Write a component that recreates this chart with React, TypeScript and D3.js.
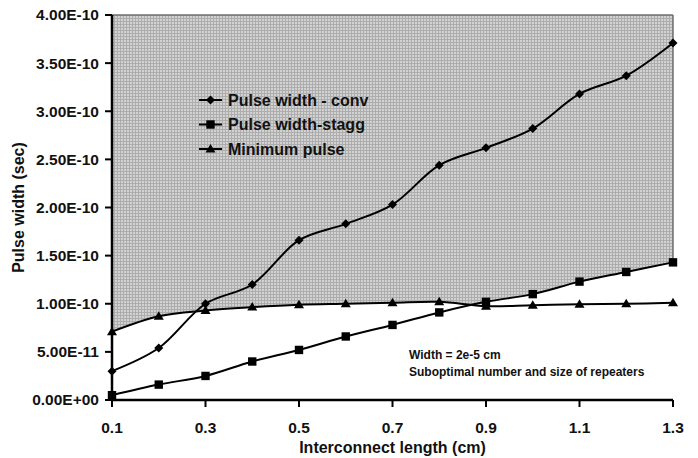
import React from "react";
import * as d3 from "d3";

const lengths = [0.1, 0.2, 0.3, 0.4, 0.5, 0.6, 0.7, 0.8, 0.9, 1.0, 1.1, 1.2, 1.3];
const pulseConv = [3.0e-11, 5.4e-11, 1.0e-10, 1.2e-10, 1.66e-10, 1.83e-10, 2.03e-10, 2.44e-10, 2.62e-10, 2.82e-10, 3.18e-10, 3.37e-10, 3.71e-10];
const pulseStagg = [5e-12, 1.6e-11, 2.5e-11, 4.0e-11, 5.2e-11, 6.6e-11, 7.8e-11, 9.1e-11, 1.02e-10, 1.1e-10, 1.23e-10, 1.33e-10, 1.43e-10];
const minPulse = [7.1e-11, 8.7e-11, 9.3e-11, 9.65e-11, 9.9e-11, 1.0e-10, 1.01e-10, 1.02e-10, 9.75e-11, 9.85e-11, 9.95e-11, 1.0e-10, 1.01e-10];
const yTicks = [0, 5e-11, 1e-10, 1.5e-10, 2e-10, 2.5e-10, 3e-10, 3.5e-10, 4e-10];
const yTickLabels = ["0.00E+00", "5.00E-11", "1.00E-10", "1.50E-10", "2.00E-10", "2.50E-10", "3.00E-10", "3.50E-10", "4.00E-10"];
const xTicks = [0.1, 0.3, 0.5, 0.7, 0.9, 1.1, 1.3];
const seriesNames = ["Pulse width - conv", "Pulse width-stagg", "Minimum pulse"];
const annotation = ["Width = 2e-5 cm", "Suboptimal number and size of repeaters"];

const W = 698, H = 458;
const L = 112, R = 673, T = 15, B = 400;
const FONT = "'Liberation Sans', Arial, sans-serif";

export default function App() {
  const x = d3.scaleLinear().domain([0.1, 1.3]).range([L, R]);
  const y = d3.scaleLinear().domain([0, 4e-10]).range([B, T]);
  const curve = d3.curveCatmullRom.alpha(0.5);

  const line = (vals: number[]) =>
    d3.line<number>().x((_, i) => x(lengths[i])).y((v) => y(v)).curve(curve)(vals) || "";
  const areaAbove = (vals: number[]) =>
    d3.area<number>().x((_, i) => x(lengths[i])).y0(y(4e-10)).y1((v) => y(v)).curve(curve)(vals) || "";

  const series = [pulseConv, pulseStagg, minPulse];

  const marker = (kind: number, cx: number, cy: number, key: string) => {
    if (kind === 0) {
      const s = 4.5;
      return <path key={key} d={`M${cx},${cy - s}L${cx + s},${cy}L${cx},${cy + s}L${cx - s},${cy}Z`} fill="#000" />;
    }
    if (kind === 1) {
      const s = 4.2;
      return <rect key={key} x={cx - s} y={cy - s} width={2 * s} height={2 * s} fill="#000" />;
    }
    const s = 5;
    return <path key={key} d={`M${cx},${cy - s}L${cx + s},${cy + s * 0.7}L${cx - s},${cy + s * 0.7}Z`} fill="#000" />;
  };

  const lastX = x(lengths[lengths.length - 1]);
  const lastStagg = y(pulseStagg[pulseStagg.length - 1]);

  return (
    <svg width={W} height={H} style={{ position: "absolute", left: 0, top: 0 }} fontFamily={FONT}>
      <defs>
        <pattern id="grid" width="3" height="3" patternUnits="userSpaceOnUse">
          <rect width="3" height="3" fill="#d2d2d2" />
          <rect width="3" height="1" fill="#adadad" />
          <rect width="1" height="3" fill="#adadad" />
        </pattern>
        <clipPath id="aboveStagg">
          <path d={areaAbove(pulseStagg)} />
        </clipPath>
      </defs>
      <rect width={W} height={H} fill="#fff" />
      <path d={areaAbove(minPulse)} fill="url(#grid)" clipPath="url(#aboveStagg)" />
      <line x1={L} x2={R} y1={T} y2={T} stroke="#707070" strokeWidth={1.5} />
      <line x1={lastX} x2={lastX} y1={T} y2={lastStagg} stroke="#707070" strokeWidth={1.5} />

      {series.map((vals, si) => (
        <g key={si}>
          <path d={line(vals)} fill="none" stroke="#000" strokeWidth={2} />
          {vals.map((v, i) => marker(si, x(lengths[i]), y(v), `${si}-${i}`))}
        </g>
      ))}

      {/* axes */}
      <line x1={L} x2={L} y1={T} y2={B} stroke="#000" strokeWidth={2.5} />
      <line x1={L} x2={R} y1={B} y2={B} stroke="#000" strokeWidth={2.5} />
      {yTicks.map((t, i) => (
        <g key={i}>
          <line x1={L - 7} x2={L} y1={y(t)} y2={y(t)} stroke="#000" strokeWidth={2} />
          <text x={L - 13} y={y(t)} dy="0.35em" textAnchor="end" fontSize={15.5} fontWeight="bold" fill="#111">
            {yTickLabels[i]}
          </text>
        </g>
      ))}
      {xTicks.map((t, i) => (
        <g key={i}>
          <line x1={x(t)} x2={x(t)} y1={B} y2={B + 7} stroke="#000" strokeWidth={2} />
          <text x={x(t)} y={B + 33} textAnchor="middle" fontSize={15.5} fontWeight="bold" fill="#111">
            {d3.format(".1f")(t)}
          </text>
        </g>
      ))}
      <text x={(L + R) / 2} y={H - 5} textAnchor="middle" fontSize={16} fontWeight="bold" fill="#111">
        Interconnect length (cm)
      </text>
      <text transform={`translate(24,${(T + B) / 2}) rotate(-90)`} textAnchor="middle" fontSize={16} fontWeight="bold" fill="#111">
        Pulse width (sec)
      </text>

      {/* legend */}
      {seriesNames.map((n, i) => {
        const ly = 100 + i * 24.5;
        return (
          <g key={n}>
            <line x1={199} x2={222} y1={ly} y2={ly} stroke="#000" strokeWidth={2} />
            {marker(i, 210.5, ly, `lg${i}`)}
            <text x={228} y={ly} dy="0.36em" fontSize={16} fontWeight="bold" fill="#111">
              {n}
            </text>
          </g>
        );
      })}

      {annotation.map((a, i) => (
        <text key={i} x={409} y={355 + i * 17} dy="0.35em" fontSize={12} fontWeight="bold" fill="#111">
          {a}
        </text>
      ))}
    </svg>
  );
}
